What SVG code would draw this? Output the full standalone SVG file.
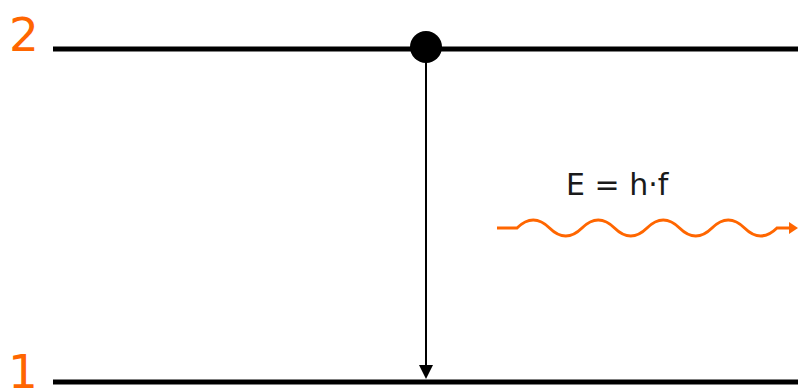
<svg xmlns="http://www.w3.org/2000/svg" width="798" height="390" viewBox="0 0 798 390">
<style>
.level{stroke:#000;stroke-width:5;fill:none}
.lbl{font-family:"DejaVu Sans",sans-serif;font-size:47px;fill:#ff6600}
.eq{font-family:"DejaVu Sans",sans-serif;font-size:30px;fill:#1a1a1a}
.wave{stroke:#ff6600;stroke-width:3;fill:none}
</style>
<defs>
<marker id="ab" markerWidth="14" markerHeight="14" refX="7" refY="13" orient="auto-start-reverse" markerUnits="userSpaceOnUse" viewBox="0 0 14 14">
<path d="M0,0 L14,0 L7,14 Z" fill="#000" transform="rotate(-90 7 7)"/>
</marker>
<marker id="ao" markerWidth="10" markerHeight="10" refX="9" refY="5" orient="auto" markerUnits="userSpaceOnUse" viewBox="0 0 10 10">
<path d="M0,0 L10,5 L0,10 Z" fill="#ff6600"/>
</marker>
</defs>
<g id="level2">
<line class="level" x1="53" y1="49" x2="798" y2="49"/>
<text class="lbl" x="9" y="51">2</text>
</g>
<g id="level1">
<line class="level" x1="53" y1="382" x2="798" y2="382"/>
<text class="lbl" x="8" y="388">1</text>
</g>
<g id="electron">
<circle cx="426" cy="47" r="16" fill="#000"/>
</g>
<g id="connectors">
<line x1="426" y1="60" x2="426" y2="366" stroke="#000" stroke-width="2"/>
<path d="M419,365 L433,365 L426,379 Z" fill="#000"/>
<path class="wave" d="M497,228 L517,228 Q533.25,212 549.5,228 T582,228 T614.5,228 T647,228 T679.5,228 T712,228 T744.5,228 T777,228 L790,228"/>
<path d="M789,222 L798,228 L789,234 Z" fill="#ff6600"/>
</g>
<g id="photon-label">
<text class="eq" x="566" y="195">E = h·f</text>
</g>
</svg>
